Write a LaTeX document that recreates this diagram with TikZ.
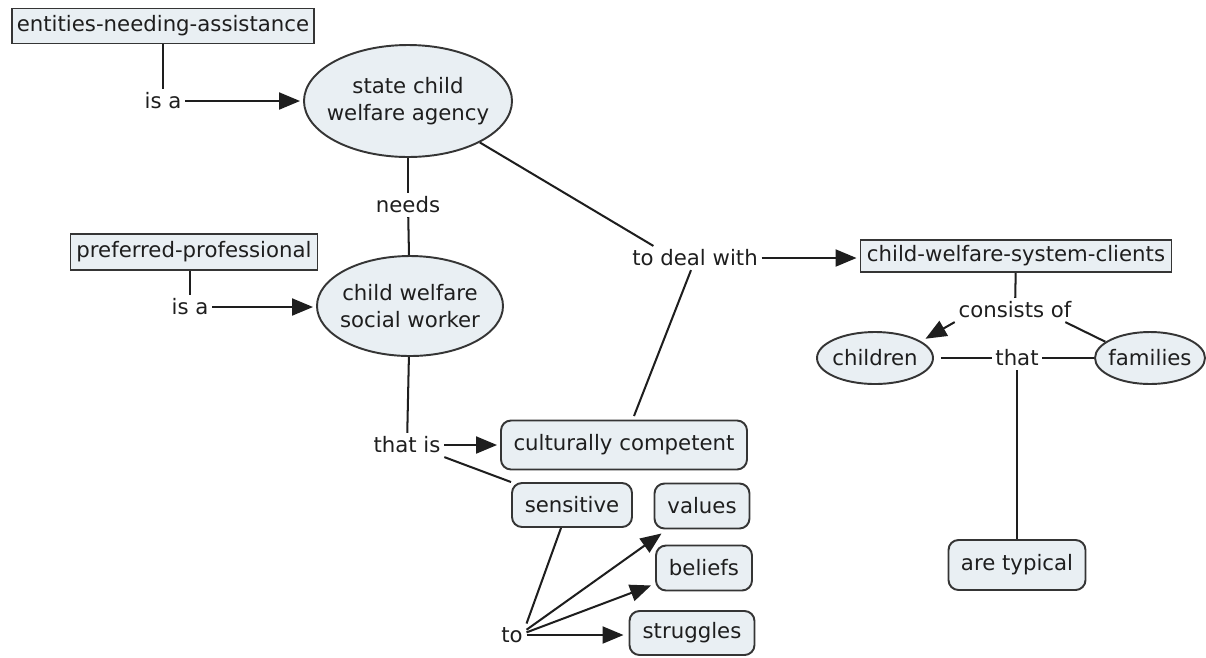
\documentclass[tikz,border=0pt]{standalone}
\usepackage{fontspec}
\setmainfont{DejaVu Sans}
\usetikzlibrary{shapes.geometric,arrows.meta}

\definecolor{conceptfill}{HTML}{E9EFF3}
\definecolor{conceptdraw}{HTML}{353535}
\definecolor{inkcol}{HTML}{1E1E1E}

\tikzset{
  every node/.style={font=\fontsize{12.1}{15}\selectfont, text=inkcol},
  sz/.style 2 args={minimum width=#1*0.02cm, minimum height=#2*0.02cm, inner sep=0pt},
  concept/.style={draw=conceptdraw, fill=conceptfill, line width=1.1pt},
  sbox/.style={concept, rectangle},
  rbox/.style={concept, rectangle, rounded corners=0.2cm},
  oval/.style={concept, ellipse},
  link/.style={inner sep=2pt},
  conn/.style={draw=inkcol, line width=1.15pt},
  arr/.style={conn, -{Triangle[length=0.42cm,width=0.34cm]}},
}

\begin{document}
\begin{tikzpicture}[x=0.02cm,y=-0.02cm]
\useasboundingbox (0,0) rectangle (1206,657);

% concepts
\node[sbox, sz={302}{35}] (ena) at (163,26) {entities-needing-assistance};
\node[sbox, sz={247}{36}] (pp) at (194,252) {preferred-professional};
\node[sbox, sz={311}{32}] (cwsc) at (1016,256) {child-welfare-system-clients};

\node[oval, sz={208}{112}] (sa) at (408,101) {};
\node[align=center] at (sa) {state child\\welfare agency};
\node[oval, sz={186}{100}] (csw) at (410,306) {};
\node[align=center] at (csw) {child welfare\\social worker};
\node[oval, sz={116}{52}] (children) at (875,358) {};
\node at (children) {children};
\node[oval, sz={110}{52}] (families) at (1150,358) {};
\node at (families) {families};

\node[rbox, sz={246}{49}] (cc) at (624,445) {culturally competent};
\node[rbox, sz={120}{44}] (sens) at (572,505) {sensitive};
\node[rbox, sz={95}{45}] (values) at (702,506) {values};
\node[rbox, sz={96}{45}] (beliefs) at (704,568) {beliefs};
\node[rbox, sz={125}{44}] (strug) at (692,633) {struggles};
\node[rbox, sz={137}{50}] (typical) at (1017,565) {are typical};

% linking phrases
\node[link] (isa1) at (163,101) {is a};
\node[link] (isa2) at (190,307) {is a};
\node[link] (needs) at (408,205) {needs};
\node[link] (todeal) at (695,258) {to deal with};
\node[link] (thatis) at (407,445) {that is};
\node[link] (to) at (512,635) {to};
\node[link] (consists) at (1015,310) {consists of};
\node[link] (that) at (1017,358) {that};

% connectors
\draw[conn] (ena) -- (isa1);
\draw[arr, shorten >=0.06cm] (isa1) -- (sa);
\draw[conn] (pp.south -| isa2) -- (isa2);
\draw[arr, shorten >=0.06cm] (isa2.east) -- (isa2.east -| csw.west);
\draw[conn] (sa) -- (needs);
\draw[conn] (needs) -- (csw);
\draw[conn] (sa.-30) -- ([xshift=0.5cm]todeal.north west);
\draw[arr, shorten >=0.06cm] (todeal.east) -- (todeal.east -| cwsc.west);
\draw[conn] ([xshift=0.2cm,yshift=2pt]cc.north) -- ([xshift=-0.08cm]todeal.south);
\draw[conn] (csw) -- (thatis);
\draw[arr, shorten >=0.06cm] (thatis) -- (cc);
\draw[conn] (thatis.south east) -- (sens.north west);
\draw[conn] ([xshift=-0.22cm]sens.south) -- (to.north east);
\draw[arr] ([yshift=3pt]to.east) -- ([xshift=0.16cm,yshift=-0.08cm]values.south west);
\draw[arr] ([yshift=1.5pt]to.east) -- ([xshift=-0.08cm,yshift=0.12cm]beliefs.south west);
\draw[arr, shorten >=0.1cm] (to.east) -- (to.east -| strug.west);
\draw[conn] (cwsc) -- (consists);
\draw[arr, shorten >=0.1cm] (consists.south west) -- (children.20);
\draw[conn] ([xshift=-0.2cm]consists.south east) -- (families.160);
\draw[conn, shorten <=0.14cm] (children) -- (that);
\draw[conn] (that) -- (families);
\draw[conn] (that) -- (typical);
\end{tikzpicture}
\end{document}
